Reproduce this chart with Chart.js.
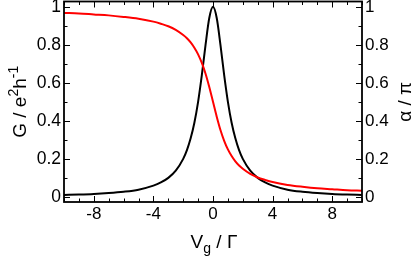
<!DOCTYPE html>
<html>
<head>
<meta charset="utf-8">
<script src="https://cdn.jsdelivr.net/npm/chart.js@4"></script>
<style>
  body { margin: 0; background: #fff; }
  canvas { display: block; }
</style>
</head>
<body>
<canvas id="chart" width="411" height="262"></canvas>
<script>
// gate voltage in units of Gamma
var vg = [-10, -9, -8, -7, -6, -5, -4, -3.5, -3, -2.5, -2, -1.75, -1.5, -1.25, -1, -0.75, -0.5, -0.25,
    0, 0.25, 0.5, 0.75, 1, 1.25, 1.5, 1.75, 2, 2.5, 3, 3.5, 4, 5, 6, 7, 8, 9, 10];
// conductance G (e^2/h), black
var conductance = [0.010, 0.012, 0.015, 0.020, 0.027, 0.038, 0.059, 0.076, 0.100, 0.138, 0.200, 0.246, 0.308, 0.390, 0.500, 0.640, 0.800, 0.941,
    1.000, 0.941, 0.800, 0.640, 0.500, 0.390, 0.308, 0.246, 0.200, 0.138, 0.100, 0.076, 0.059, 0.038, 0.027, 0.020, 0.015, 0.012, 0.010];
// phase alpha / pi, red
var phase = [0.968, 0.965, 0.960, 0.955, 0.947, 0.937, 0.922, 0.911, 0.898, 0.879, 0.852, 0.835, 0.813, 0.785, 0.750, 0.705, 0.648, 0.578,
    0.500, 0.422, 0.352, 0.295, 0.250, 0.215, 0.187, 0.165, 0.148, 0.121, 0.102, 0.089, 0.078, 0.063, 0.053, 0.045, 0.040, 0.035, 0.032];

var xTicks = [-8, -4, 0, 4, 8];
var yTicks = [0, 0.2, 0.4, 0.6, 0.8, 1];

var fontFamily = '"Liberation Sans", Arial, Helvetica, sans-serif';

function points(ys) {
    return vg.map((x, i) => ({ x: x, y: ys[i] }));
}

// frame, inward ticks and axis titles
var decorations = {
    id: 'decorations',
    afterDraw(chart) {
        var ctx = chart.ctx;
        var a = chart.chartArea;
        var xs = chart.scales.x, ys = chart.scales.y;
        ctx.save();
        ctx.strokeStyle = '#000';
        ctx.lineWidth = 1;
        ctx.beginPath();
        for (let v = -10; v <= 10; v++) {
            var px = Math.round(xs.getPixelForValue(v)) + 0.5;
            var len = v % 4 === 0 ? 6 : 3.5;
            ctx.moveTo(px, a.bottom); ctx.lineTo(px, a.bottom - len);
            ctx.moveTo(px, a.top); ctx.lineTo(px, a.top + len);
        }
        for (let k = 0; k <= 10; k++) {
            var py = Math.round(ys.getPixelForValue(k / 10)) + 0.5;
            var l = k % 2 === 0 ? 6 : 3.5;
            ctx.moveTo(a.left, py); ctx.lineTo(a.left + l, py);
            ctx.moveTo(a.right, py); ctx.lineTo(a.right - l, py);
        }
        ctx.stroke();

        ctx.lineWidth = 1.8;
        ctx.strokeRect(a.left, a.top, a.right - a.left, a.bottom - a.top);

        ctx.fillStyle = '#000';
        ctx.textBaseline = 'alphabetic';

        // x title: V_g / Γ
        drawRuns(ctx, [
            { t: 'V', size: 19, dy: 0 },
            { t: 'g', size: 14, dy: 5 },
            { t: ' / Γ', size: 19, dy: 0 }
        ], (a.left + a.right) / 2 + 1, 248);

        // left title: G / e^2 h^-1
        ctx.save();
        ctx.translate(25.5, (a.top + a.bottom) / 2);
        ctx.rotate(-Math.PI / 2);
        drawRuns(ctx, [
            { t: 'G / e', size: 19, dy: 0 },
            { t: '2', size: 14, dy: -8 },
            { t: 'h', size: 19, dy: 0 },
            { t: '-1', size: 14, dy: -8 }
        ], 0, 0);
        ctx.restore();

        // right title: α / π
        ctx.save();
        ctx.translate(410.5, (a.top + a.bottom) / 2);
        ctx.rotate(-Math.PI / 2);
        drawRuns(ctx, [{ t: 'α / π', size: 19, dy: 0 }], 0, 0);
        ctx.restore();

        ctx.restore();
    }
};

function drawRuns(ctx, runs, cx, baseY) {
    var total = 0;
    runs.forEach(r => {
        ctx.font = r.size + 'px ' + fontFamily;
        r.w = ctx.measureText(r.t).width;
        total += r.w;
    });
    var x = cx - total / 2;
    runs.forEach(r => {
        ctx.font = r.size + 'px ' + fontFamily;
        ctx.textAlign = 'left';
        ctx.fillText(r.t, x, baseY + r.dy);
        x += r.w;
    });
}

function fitY(width) {
    return s => {
        s.width = width;
        s.paddingTop = 0;
        s.paddingBottom = 0;
    };
}

new Chart(document.getElementById('chart'), {
    type: 'line',
    data: {
        datasets: [{
            data: points(phase),
            borderColor: '#ff0000',
            borderWidth: 2,
            pointRadius: 0,
            cubicInterpolationMode: 'monotone',
            yAxisID: 'y2'
        }, {
            data: points(conductance),
            borderColor: '#000000',
            borderWidth: 2,
            pointRadius: 0,
            cubicInterpolationMode: 'monotone',
            yAxisID: 'y'
        }]
    },
    options: {
        responsive: false,
        animation: false,
        events: [],
        layout: { padding: { top: 1.5, left: 0, right: 0, bottom: 0 } },
        plugins: { legend: { display: false }, tooltip: { enabled: false } },
        scales: {
            x: {
                type: 'linear',
                min: -10,
                max: 10,
                grid: { display: false, drawTicks: false },
                border: { display: false },
                afterBuildTicks: s => { s.ticks = xTicks.map(v => ({ value: v })); },
                afterFit: s => { s.height = 60; s.paddingLeft = 0; s.paddingRight = 0; },
                ticks: {
                    color: '#000',
                    padding: 2,
                    maxRotation: 0,
                    callback: v => String(v),
                    font: { family: fontFamily, size: 17 }
                }
            },
            y: {
                position: 'left',
                min: -0.027,
                max: 1.028,
                grid: { display: false, drawTicks: false },
                border: { display: false },
                afterBuildTicks: s => { s.ticks = yTicks.map(v => ({ value: v })); },
                afterFit: fitY(64),
                ticks: {
                    color: '#000',
                    padding: 3,
                    callback: v => String(v),
                    font: { family: fontFamily, size: 17.5 }
                }
            },
            y2: {
                position: 'right',
                min: -0.027,
                max: 1.028,
                grid: { display: false, drawTicks: false },
                border: { display: false },
                afterBuildTicks: s => { s.ticks = yTicks.map(v => ({ value: v })); },
                afterFit: fitY(49),
                ticks: {
                    color: '#000',
                    padding: 3,
                    callback: v => String(v),
                    font: { family: fontFamily, size: 17 }
                }
            }
        }
    },
    plugins: [decorations]
});
</script>
</body>
</html>
